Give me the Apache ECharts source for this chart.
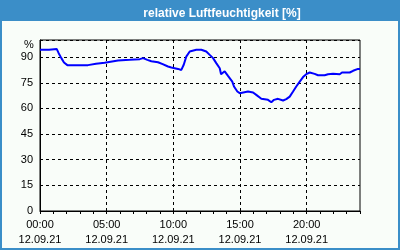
<!DOCTYPE html>
<html><head><meta charset="utf-8">
<script src="https://cdn.jsdelivr.net/npm/echarts@6/dist/echarts.min.js"></script>
<style>html,body{margin:0;padding:0;background:#f9fdf9}#c{width:400px;height:250px}</style>
</head><body><div id="c"></div>
<script>
var titleText = 'relative Luftfeuchtigkeit [%]';
var dateLabel = '12.09.21';
var timeCategories = ['00:00','01:00','02:00','03:00','04:00','05:00','06:00','07:00','08:00','09:00','10:00','11:00','12:00','13:00','14:00','15:00','16:00','17:00','18:00','19:00','20:00','21:00','22:00','23:00','24:00'];
var yTicks = [0, 15, 30, 45, 60, 75, 90];
var hours = [0,0.68,0.7,1.25,1.4,1.6,1.8,2.05,3.6,3.65,4.2,4.85,5.85,6.73,7.48,7.73,8.05,8.35,8.85,9.2,9.6,9.85,10.1,10.35,10.6,10.78,10.97,11.23,11.72,12.1,12.47,12.73,12.98,13.22,13.48,13.58,13.85,14.1,14.23,14.42,14.55,14.8,14.98,15.6,15.98,16.22,16.6,17.1,17.35,17.55,17.85,17.98,18.23,18.47,18.73,18.98,19.22,19.48,19.73,19.97,20.23,20.35,20.6,20.85,21.35,21.6,21.98,22.48,22.65,23.23,23.48,23.85,24];
var humidity = [94.3,94.3,94.8,94.8,92.3,89.4,86.8,85.3,85.3,85.7,86.1,86.7,88,88.4,88.8,89.4,88.4,87.6,87,85.9,84.5,83.9,83.5,83.1,82.5,85.5,90.3,93.3,94.3,94.3,93.3,91.3,89.4,86.5,83.5,80,81.7,79,78.3,75.7,72.8,69.9,68.9,69.9,69.3,67.9,65.6,65,63.6,65,65.6,66,64.6,65.4,66.9,69.9,72.8,75.7,78.3,80,81,81.6,80.2,79.4,79.4,80,80.2,80,81,81,82,83.1,83.1];

var blue = '#3b8ec8';
var font = 'Liberation Sans';
var chart = echarts.init(document.getElementById('c'), null, {renderer: 'canvas'});
var pts = hours.map(function (h, i) { return [h, humidity[i]]; });
chart.setOption({
  backgroundColor: '#f9fdf9',
  animation: false,
  title: {
    text: titleText, left: 217, top: 3, textAlign: 'center',
    textStyle: {color: '#ffffff', fontFamily: font, fontWeight: 'bold', fontSize: 12}
  },
  graphic: [
    {type: 'rect', z: -1, shape: {x: 0, y: 0, width: 400, height: 21}, style: {fill: blue}},
    {type: 'rect', z: 100, shape: {x: 1, y: 1, width: 398, height: 248}, style: {fill: null, stroke: blue, lineWidth: 2}},
    {type: 'text', left: 24, top: 39, style: {text: '%', fill: '#000', font: '11px "Liberation Sans"'}}
  ],
  grid: {left: 40, right: 40, top: 40, bottom: 39, show: true, borderColor: '#000', borderWidth: 1, backgroundColor: 'transparent'},
  xAxis: [{
    type: 'category', data: timeCategories, boundaryGap: false,
    axisLine: {lineStyle: {color: '#000', width: 1}},
    axisTick: {show: true, interval: 0, length: 3, lineStyle: {color: '#000'}},
    axisLabel: {
      interval: function (i) { return i % 5 === 0 && i < 24; },
      formatter: function (v) { return v + '\n' + dateLabel; },
      color: '#000', fontFamily: font, fontSize: 11, lineHeight: 15, margin: 6
    },
    splitLine: {show: true, interval: function (i) { return i % 5 === 0; }, lineStyle: {color: '#000', type: [3, 3], width: 1}}
  }, {
    type: 'value', min: 0, max: 24, show: false
  }],
  yAxis: {
    type: 'value', min: 0, max: 100, interval: 15,
    axisLine: {show: true, lineStyle: {color: '#000'}},
    axisTick: {show: false},
    axisLabel: {
      formatter: function (v) { return yTicks.indexOf(v) >= 0 ? String(v) : ''; },
      color: '#000', fontFamily: font, fontSize: 11, margin: 7
    },
    splitLine: {show: true, lineStyle: {color: '#000', type: [3, 3], width: 1}}
  },
  series: [{
    type: 'line', xAxisIndex: 1, data: pts, showSymbol: false, smooth: false,
    lineStyle: {color: '#0000ff', width: 2}
  }]
});
</script></body></html>
